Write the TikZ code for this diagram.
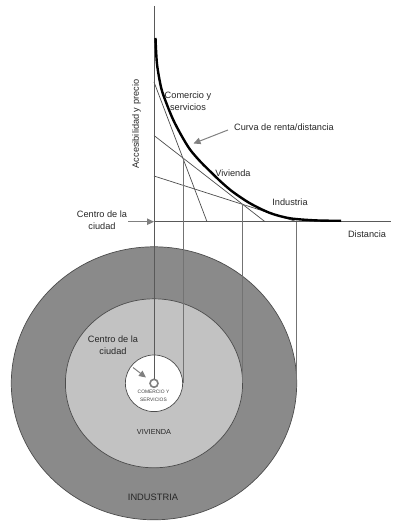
\documentclass[tikz,border=0pt]{standalone}
\usepackage{fontspec}
\setmainfont{Liberation Sans}
\usetikzlibrary{arrows.meta}
\begin{document}
\begin{tikzpicture}[x=1pt,y=-1pt,
  lbl/.style={font=\fontsize{9.2}{11.7}\selectfont, text=black!85, inner sep=0pt, align=center},
  axisline/.style={draw=black!65, line width=0.6pt},
  proj/.style={draw=black!55, line width=0.55pt},
  bid/.style={draw=black!70, line width=0.7pt},
  ptr/.style={draw=black!50, line width=1pt, -{Triangle[length=7pt,width=6.5pt]}},
  zone/.style={draw=black!70, line width=0.7pt},
  rentcurve/.style={draw=black, line width=2.4pt}]
\useasboundingbox (0,0) rectangle (394,521);
% city centre
\coordinate (C) at (154,383.3);
% zones
\draw[zone, fill=black!46] (C) ellipse [x radius=142.7, y radius=136.5];
\draw[zone, fill=black!24] (C) ellipse [x radius=88.6, y radius=84.5];
\draw[zone, fill=white] (C) ellipse [x radius=28.65, y radius=28.3];
% axes
\coordinate (O) at (154,221.7);
\coordinate (Ytop) at (154,6);
\coordinate (Xend) at (391,221.7);
\draw[axisline] (O) -- (Xend);
% bid-rent lines
\coordinate (cA) at (154,82);   \coordinate (cB) at (207,221.7);
\coordinate (vA) at (154,135.5); \coordinate (vB) at (265,221.7);
\coordinate (iA) at (154,176);  \coordinate (iB) at (296.7,221.7);
\draw[bid] (cA) -- (cB);
\draw[bid] (vA) -- (vB);
\draw[bid] (iA) -- (iB);
\coordinate (p1) at (intersection of cA--cB and vA--vB);
\coordinate (p2) at (intersection of vA--vB and iA--iB);
% projections
\draw[proj] (p1) -- (p1 |- C);
\draw[proj] (p2) -- (p2 |- C);
\draw[proj] (iB) -- (iB |- C);
% centre ring and vertical axis
\node[circle, draw=black!50, line width=1.6pt, fill=white, minimum size=8pt, inner sep=0pt] (ring) at (C) {};
\draw[axisline] (Ytop) -- (ring.north);
% rent curve
\draw[rentcurve] plot[smooth, tension=0.5] coordinates {
 (155.5,38) (157,64) (161.2,88) (166.5,103.5) (173.3,120) (181.7,136) (190,149.5)
 (200,161.2) (210,171.2) (221.5,182.3) (233,192) (250,203.3) (270,213) (290,218.3)
 (316,220.4) (341,220.8)};
% labels of graph
\node[lbl, rotate=90] (acc) at (136.5,124) {Accesibilidad y precio};
\node[lbl] (com) at (188,101) {Comercio y\\servicios};
\node[lbl] (curva) at (284,127) {Curva de renta/distancia};
\coordinate (curvaTip) at (193.5,143.5);
\draw[ptr] ([xshift=-6pt,yshift=-3pt]curva.west) -- (curvaTip);
\node[lbl] (viv) at (233,173) {Vivienda};
\node[lbl] (ind) at (290,202) {Industria};
\node[lbl] (dist) at (367,234.5) {Distancia};
\node[lbl] (cen1) at (102,220) {Centro de la\\ciudad};
\draw[ptr] ([xshift=1pt]cen1.east |- O) -- (O);
% labels of zones
\node[lbl] (cen2) at (113,345) {Centro de la\\ciudad};
\coordinate (cen2Tip) at (146,377.5);
\draw[ptr] (133,367.5) -- (cen2Tip);
\node[lbl, font=\fontsize{4.9}{8.3}\selectfont, text=black!75] (csv) at (153.5,396) {COMERCIO Y\\SERVICIOS};
\node[lbl, font=\fontsize{7.3}{8}\selectfont] (vivU) at (154,431.7) {VIVIENDA};
\node[lbl, font=\fontsize{9.3}{10}\selectfont] (indU) at (153,497.7) {INDUSTRIA};
\end{tikzpicture}
\end{document}
